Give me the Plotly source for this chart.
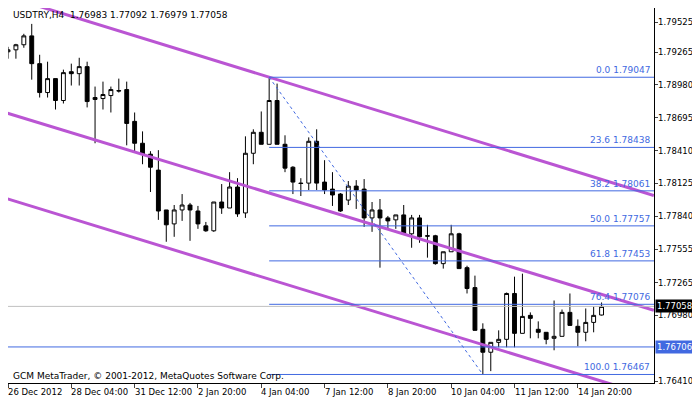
import plotly.graph_objects as go

# USDTRY H4 candles, oldest first
opens = [1.79268, 1.79285, 1.79329, 1.79406, 1.79165, 1.78914, 1.79035, 1.78845, 1.79095, 1.79078,
         1.79139, 1.78854, 1.78862, 1.78888, 1.78931, 1.78940, 1.78664, 1.78474, 1.78379, 1.78241,
         1.77895, 1.77774, 1.77895, 1.77938, 1.77886, 1.77757, 1.77714, 1.77964, 1.77912, 1.78094,
         1.77869, 1.78387, 1.78569, 1.78465, 1.78845, 1.78465, 1.78266, 1.78128, 1.78128, 1.78491,
         1.78137, 1.78076, 1.78033, 1.77981, 1.78102, 1.78076, 1.77826, 1.77895, 1.77826, 1.77809,
         1.77852, 1.77688, 1.77826, 1.77671, 1.77671, 1.77429, 1.77532, 1.77688, 1.77394, 1.77221,
         1.76859, 1.76660, 1.76746, 1.76772, 1.77170, 1.76824, 1.76980, 1.76859, 1.76833, 1.76781,
         1.76798, 1.77006, 1.76885, 1.76833, 1.76919, 1.76983]
highs = [1.79311, 1.79337, 1.79424, 1.79510, 1.79242, 1.79182, 1.79035, 1.79113, 1.79165, 1.79216,
         1.79182, 1.78966, 1.79009, 1.78966, 1.79035, 1.79009, 1.78741, 1.78577, 1.78405, 1.78414,
         1.77895, 1.77938, 1.78033, 1.77956, 1.77930, 1.77791, 1.77964, 1.78120, 1.78223, 1.78171,
         1.78534, 1.78595, 1.78750, 1.79047, 1.78992, 1.78543, 1.78275, 1.78171, 1.78525, 1.78595,
         1.78327, 1.78223, 1.78042, 1.78146, 1.78154, 1.78163, 1.77964, 1.77990, 1.77843, 1.77852,
         1.77938, 1.77852, 1.77852, 1.77766, 1.77679, 1.77532, 1.77766, 1.77697, 1.77411, 1.77325,
         1.76911, 1.76746, 1.76850, 1.77178, 1.77316, 1.77342, 1.77006, 1.76928, 1.76833, 1.77109,
         1.77031, 1.77170, 1.76945, 1.77040, 1.77057, 1.77092]
lows = [1.79208, 1.79208, 1.79303, 1.79026, 1.78871, 1.78871, 1.78767, 1.78819, 1.78975, 1.78975,
        1.78785, 1.78474, 1.78767, 1.78741, 1.78914, 1.78456, 1.78405, 1.78292, 1.78051, 1.77809,
        1.77619, 1.77662, 1.77800, 1.77627, 1.77731, 1.77705, 1.77705, 1.77861, 1.77912, 1.77835,
        1.77826, 1.78292, 1.78465, 1.78465, 1.78465, 1.78223, 1.78033, 1.78016, 1.78068, 1.78068,
        1.78033, 1.77930, 1.77878, 1.77938, 1.77904, 1.77748, 1.77705, 1.77394, 1.77731, 1.77731,
        1.77688, 1.77567, 1.77610, 1.77481, 1.77420, 1.77386, 1.77532, 1.77386, 1.77170, 1.76850,
        1.76467, 1.76496, 1.76703, 1.76703, 1.76703, 1.76824, 1.76781, 1.76781, 1.76729, 1.76677,
        1.76798, 1.76893, 1.76712, 1.76755, 1.76833, 1.76979]
closes = [1.79285, 1.79329, 1.79406, 1.79165, 1.78914, 1.79035, 1.78845, 1.79087, 1.79078, 1.79139,
          1.78836, 1.78871, 1.78897, 1.78940, 1.78928, 1.78646, 1.78474, 1.78379, 1.78266, 1.77886,
          1.77766, 1.77895, 1.77938, 1.77895, 1.77774, 1.77714, 1.77964, 1.77912, 1.78094, 1.77861,
          1.78387, 1.78569, 1.78465, 1.78845, 1.78465, 1.78258, 1.78137, 1.78125, 1.78491, 1.78128,
          1.78068, 1.78025, 1.77886, 1.78102, 1.78068, 1.77826, 1.77895, 1.77826, 1.77800, 1.77852,
          1.77688, 1.77826, 1.77662, 1.77668, 1.77429, 1.77532, 1.77688, 1.77386, 1.77213, 1.76850,
          1.76660, 1.76746, 1.76772, 1.77170, 1.76824, 1.76971, 1.76954, 1.76833, 1.76772, 1.76798,
          1.77006, 1.76893, 1.76833, 1.76919, 1.76980, 1.77058]

x_labels = ["26 Dec 2012", "28 Dec 04:00", "31 Dec 12:00", "2 Jan 20:00", "4 Jan 04:00",
            "7 Jan 12:00", "8 Jan 20:00", "10 Jan 04:00", "11 Jan 12:00", "14 Jan 20:00"]
x_label_pos = [0, 8, 16, 24, 32, 40, 48, 56, 64, 72]
y_ticks = [1.76410, 1.76980, 1.77265, 1.77555, 1.77840, 1.78125, 1.78410,
           1.78695, 1.78980, 1.79265, 1.79525]

fib_levels = [0.0, 23.6, 38.2, 50.0, 61.8, 76.4, 100.0]
fib_prices = [1.79047, 1.78438, 1.78061, 1.77757, 1.77453, 1.77076, 1.76467]
fib_start = 33
fib_end = 60

# parallel channel lines, (start, end) prices over the visible span
channel_x = [-0.375, 81.6]
channels = [[1.79754, 1.78020], [1.78741, 1.77024], [1.77998, 1.76270]]

last_price = 1.77058
level_price = 1.76706

idx = list(range(len(opens)))
x_min, x_max = 0.0, 81.625
y_min, y_max = 1.76393, 1.79648
FONT = "DejaVu Sans"
FS = 9
FS_AX = 8.5

fig = go.Figure()

for ch in channels:
    fig.add_trace(go.Scatter(x=channel_x, y=ch, mode="lines",
                             line=dict(color="#BA55D3", width=3), hoverinfo="skip"))

fig.add_trace(go.Scatter(x=[x_min, x_max], y=[last_price, last_price], mode="lines",
                         line=dict(color="#C0C0C0", width=1), hoverinfo="skip"))
fig.add_trace(go.Scatter(x=[x_min, x_max], y=[level_price, level_price], mode="lines",
                         line=dict(color="#4169E1", width=1), hoverinfo="skip"))

for lv, pr in zip(fib_levels, fib_prices):
    fig.add_trace(go.Scatter(x=[fib_start, x_max], y=[pr, pr], mode="lines",
                             line=dict(color="#4169E1", width=1), hoverinfo="skip"))
    fig.add_annotation(x=0.997, xref="paper", y=pr, yref="y", text=f"{lv:.1f} {pr:.5f}",
                       showarrow=False, xanchor="right", yanchor="bottom",
                       font=dict(family=FONT, size=FS, color="#4169E1"))

fig.add_trace(go.Scatter(x=[fib_start, fib_end], y=[fib_prices[0], fib_prices[-1]], mode="lines",
                         line=dict(color="#4169E1", width=1, dash="dot"), hoverinfo="skip"))

fig.add_trace(go.Candlestick(
    x=idx, open=opens, high=highs, low=lows, close=closes,
    increasing=dict(line=dict(color="black", width=1), fillcolor="white"),
    decreasing=dict(line=dict(color="black", width=1), fillcolor="black"),
    whiskerwidth=0,
))

fig.add_annotation(x=0.005, xref="paper", y=1.0, yref="paper", yanchor="top", xanchor="left",
                   text="USDTRY,H4  1.76983 1.77092 1.76979 1.77058", showarrow=False,
                   font=dict(family=FONT, size=FS, color="black"))
fig.add_annotation(x=0.005, xref="paper", y=0.0, yref="paper", yanchor="bottom", xanchor="left",
                   text="GCM MetaTrader, © 2001-2012, MetaQuotes Software Corp.", showarrow=False,
                   font=dict(family=FONT, size=FS, color="black"))

# axis labels drawn as annotations so nothing shifts the plot area
for pos, lab in zip(x_label_pos, x_labels):
    fig.add_annotation(x=(pos - x_min) / (x_max - x_min), xref="paper", y=0, yref="paper",
                       yanchor="top", xanchor="left", xshift=-2, yshift=-2, text=lab,
                       showarrow=False, font=dict(family=FONT, size=FS_AX, color="black"))
for v in y_ticks:
    fig.add_annotation(x=1, xref="paper", y=v, yref="y", xanchor="left", xshift=2,
                       text=f"{v:.5f}", showarrow=False,
                       font=dict(family=FONT, size=FS_AX, color="black"))

fig.add_annotation(x=1.0, xref="paper", y=last_price, yref="y", xanchor="left", text=f"{last_price:.5f}",
                   showarrow=False, bgcolor="black", font=dict(family=FONT, size=FS_AX, color="white"),
                   borderpad=1, xshift=1)
fig.add_annotation(x=1.0, xref="paper", y=level_price, yref="y", xanchor="left", text=f"{level_price:.5f}",
                   showarrow=False, bgcolor="#4169E1", font=dict(family=FONT, size=FS_AX, color="white"),
                   borderpad=1, xshift=1)

fig.update_layout(
    width=692, height=394,
    margin=dict(l=0, r=46, t=0, b=19, autoexpand=False),
    paper_bgcolor="white", plot_bgcolor="white",
    showlegend=False,
    font=dict(family=FONT, size=FS, color="black"),
    xaxis=dict(range=[x_min, x_max], rangeslider=dict(visible=False), showgrid=False, zeroline=False,
               tickvals=x_label_pos, showticklabels=False, ticks="outside", ticklen=4,
               showline=True, linecolor="black", mirror=True, automargin=False),
    yaxis=dict(range=[y_min, y_max], side="right", showgrid=False, zeroline=False,
               tickvals=y_ticks, showticklabels=False, ticks="outside", ticklen=3,
               showline=True, linecolor="black", mirror=True, automargin=False),
)

fig.write_html("out.html")
